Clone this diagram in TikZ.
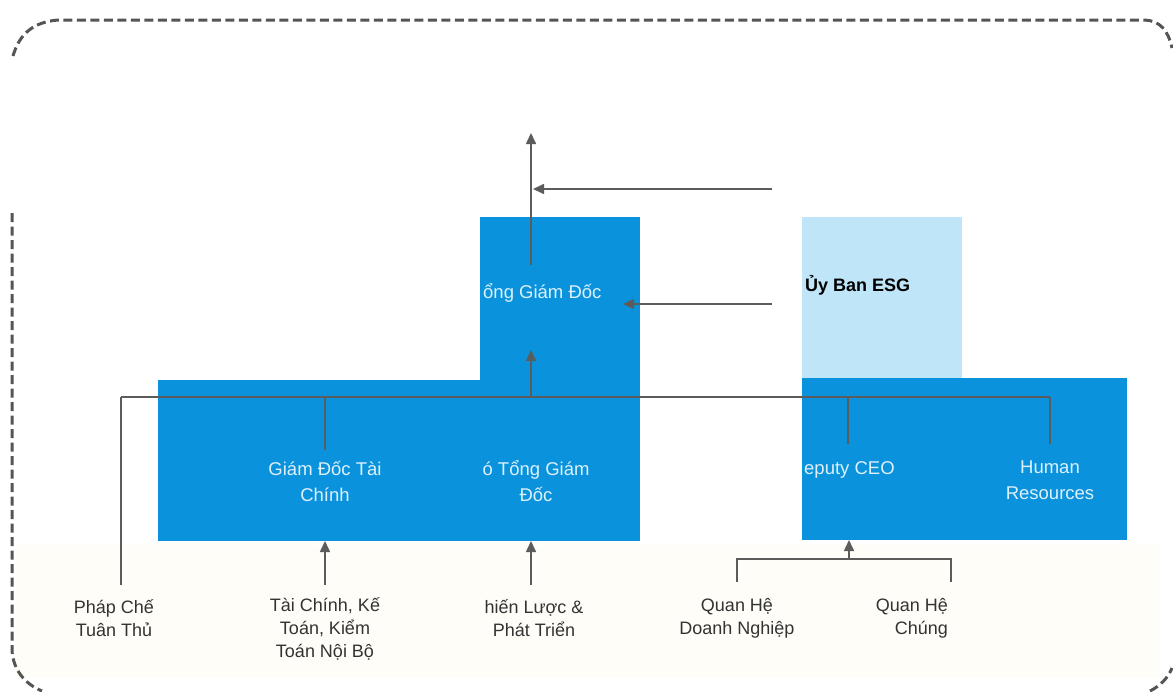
\documentclass[tikz,border=0pt]{standalone}
\usepackage{fontspec}
\setmainfont{Liberation Sans}
\usetikzlibrary{arrows.meta}
\definecolor{boxblue}{HTML}{0A93DC}
\definecolor{lightblue}{HTML}{BEE6F8}
\definecolor{conn}{HTML}{5C5C5C}
\definecolor{txtgray}{HTML}{333333}
\definecolor{borderg}{HTML}{555555}
\definecolor{intxt}{HTML}{DDF0FB}
\definecolor{cream}{HTML}{FEFDF8}
\begin{document}
\begin{tikzpicture}[x=1pt,y=-1pt,
  darkbox/.style={fill=boxblue, draw=none, inner sep=0, anchor=north west},
  lightbox/.style={fill=lightblue, draw=none, inner sep=0, anchor=north west},
  intext/.style={text=intxt, font=\fontsize{18.5}{26}\selectfont, align=center, inner sep=0},
  outtext/.style={text=txtgray, font=\fontsize{18}{23}\selectfont, align=center, inner sep=0},
  conline/.style={draw=conn, line width=1.6pt},
  arr/.style={conline, -{Triangle[length=11pt,width=10pt]}},
  border/.style={draw=borderg, line width=3pt, dash pattern=on 9pt off 4.5pt}]

\useasboundingbox (0,0) rectangle (1173,691);
\fill[white] (0,0) rectangle (1173,691);
\fill[cream] (16,545) rectangle (1160,678);

% dashed frame
\draw[border] (13,56) .. controls (20,32) and (35,22) .. (58,20) -- (1145,20) .. controls (1160,21) and (1168,30) .. (1172,48);
\draw[border] (12,213) -- (12,650) .. controls (13,670) and (25,684) .. (42,691);
\draw[border] (1150,691) .. controls (1160,686) and (1168,678) .. (1172,668);

% boxes
\node[darkbox, minimum width=160pt, minimum height=164pt] (ceobox) at (480,217) {};
\node[darkbox, minimum width=482pt, minimum height=161pt] (leftbox) at (158,380) {};
\node[lightbox, minimum width=160pt, minimum height=161pt] (esgbox) at (802,217) {};
\node[darkbox, minimum width=325pt, minimum height=162pt] (rightbox) at (802,378) {};

% texts in boxes
\node[intext, anchor=west] (ceo) at (483,293) {ổng Giám Đốc};
\node[intext] (cfo) at (325,481) {Giám Đốc Tài\\Chính};
\node[intext] (vp) at (536,481) {ó Tổng Giám\\Đốc};
\node[intext, anchor=west] (dep) at (804,470) {eputy CEO};
\node[intext] (hr) at (1050,480) {Human\\Resources};
\node[text=black, font=\fontsize{18}{20}\selectfont\bfseries, inner sep=0, anchor=west] (esg) at (805,285) {Ủy Ban ESG};

% bottom labels
\node[outtext] (phap) at (114,618) {Pháp Chế\\Tuân Thủ};
\node[outtext] (tckt) at (325,629) {Tài Chính, Kế\\Toán, Kiểm\\Toán Nội Bộ};
\node[outtext] (cl) at (534,618) {hiến Lược \&\\Phát Triển};
\node[outtext] (qhdn) at (737,618) {Quan Hệ\\Doanh Nghiệp};
\node[outtext, align=right, anchor=east] (qhc) at (948,618) {Quan Hệ\\Chúng};

% connector points
\coordinate (busL) at (121,397);
\coordinate (busR) at (1050,397);
\coordinate (busCfo) at (325,397);
\coordinate (busVp) at (531,397);
\coordinate (busDep) at (848,397);
\coordinate (phapTop) at (121,585);
\coordinate (cfoTop) at (325,450);
\coordinate (depTop) at (848,444);
\coordinate (hrTop) at (1050,444);
\coordinate (vpHead) at (531,350);
\coordinate (ceoTop) at (531,265);
\coordinate (boardHead) at (531,133);
\coordinate (esgA) at (772,189);
\coordinate (esgAhead) at (533,189);
\coordinate (esgB) at (772,304);
\coordinate (esgBhead) at (623,304);
\coordinate (tcktTop) at (325,585);
\coordinate (tcktHead) at (325,541);
\coordinate (clTop) at (531,585);
\coordinate (clHead) at (531,541);
\coordinate (qL) at (737,582);
\coordinate (qLb) at (737,559);
\coordinate (qRb) at (951,559);
\coordinate (qR) at (951,582);
\coordinate (qM) at (849,559);
\coordinate (qHead) at (849,540);

% connectors
\draw[conline] (busL) -- (busR);
\draw[conline] (busL) -- (phapTop);
\draw[conline] (busCfo) -- (cfoTop);
\draw[conline] (busDep) -- (depTop);
\draw[conline] (busR) -- (hrTop);
\draw[arr] (busVp) -- (vpHead);
\draw[arr] (ceoTop) -- (boardHead);
\draw[arr] (esgA) -- (esgAhead);
\draw[arr] (esgB) -- (esgBhead);
\draw[arr] (tcktTop) -- (tcktHead);
\draw[arr] (clTop) -- (clHead);
\draw[conline] (qL) -- (qLb) -- (qRb) -- (qR);
\draw[arr] (qM) -- (qHead);
\end{tikzpicture}
\end{document}
